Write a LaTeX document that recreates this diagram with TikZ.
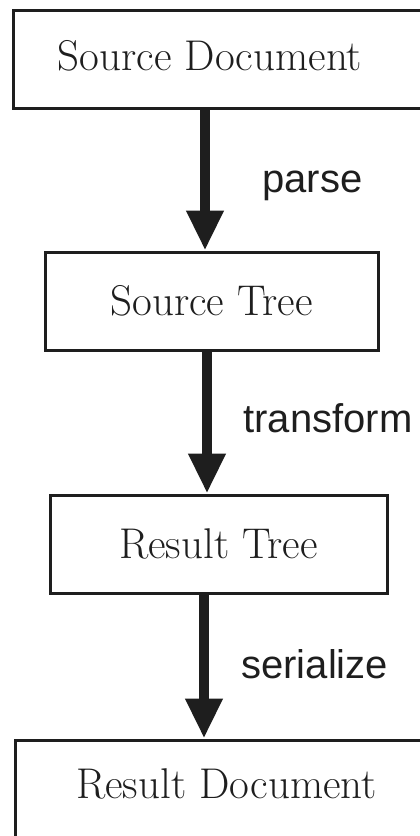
\documentclass[tikz,border=0pt]{standalone}
\usepackage{fontspec}
\newfontfamily\labelfont{Liberation Sans}
\usetikzlibrary{arrows.meta}
\definecolor{ink}{HTML}{1E1E1E}
\tikzset{
  stage/.style={draw=ink, line width=1.5pt, minimum height=49pt, inner sep=0pt,
    font=\fontsize{21.5}{26}\selectfont, text=ink},
  stagetext/.style={font=\fontsize{21.5}{26}\selectfont, text=ink, anchor=base},
  flow/.style={draw=ink, line width=5pt, -{Triangle[length=20pt,width=17.5pt]}},
  steplabel/.style={font=\labelfont\fontsize{20}{24}\selectfont, text=ink,
    inner sep=0pt, anchor=base west},
}
\begin{document}
\begin{tikzpicture}[x=0.5pt, y=-0.5pt]
	\useasboundingbox (0,0) rectangle (419,836);
	% Boxes:
	\node[stage, minimum width=213.5pt] (srcdoc) at (226.5,59) {};
	\node[stagetext] (srcdoctxt) at (210,70) {Source Document};
	\node[stage, minimum width=166.5pt] (srctree) at (211.5,301) {Source Tree};
	\node[stage, minimum width=168.5pt] (restree) at (218.5,544) {Result Tree};
	\node[stage, minimum width=212.5pt] (resdoc) at (227.5,789) {};
	\node[stagetext] (resdoctxt) at (226.5,798) {Result Document};
	% Arrows and labels:
	\coordinate (parsex) at (205,0);
	\coordinate (transformx) at (207,0);
	\coordinate (serializex) at (204,0);
	\draw[flow] (srcdoc.south -| parsex) -- (srctree.north -| parsex);
	\draw[flow] (srctree.south -| transformx) -- (restree.north -| transformx);
	\draw[flow] (restree.south -| serializex) -- (resdoc.north -| serializex);
	\node[steplabel] (parse) at (262,192) {parse};
	\node[steplabel] (transform) at (243,432) {transform};
	\node[steplabel] (serialize) at (241,678) {serialize};
\end{tikzpicture}
\end{document}
